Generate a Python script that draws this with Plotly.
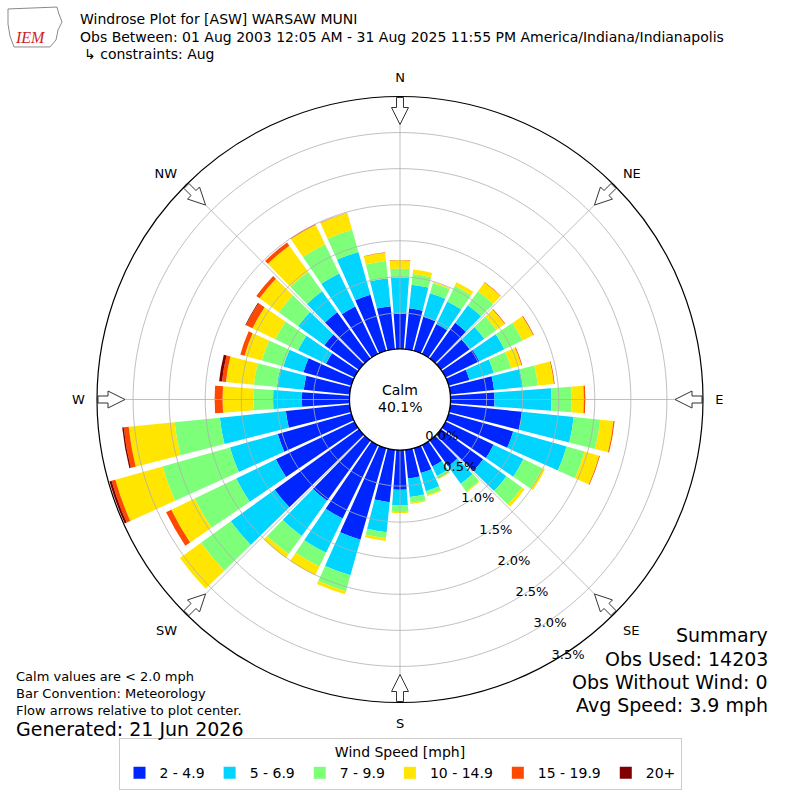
import math
import plotly.graph_objects as go

# wind direction bins, degrees (meteorological: where the wind blows from)
directions = list(range(0, 360, 10))

speed_bins = ["2 - 4.9", "5 - 6.9", "7 - 9.9", "10 - 14.9", "15 - 19.9", "20+"]
bin_colors = ["#0026ff", "#00d4ff", "#7dff7a", "#ffe500", "#ff4800", "#800000"]

# percent of all observations, per direction, one list per speed bin
pct_2_5 = [0.49, 0.57, 0.49, 0.46, 0.61, 0.49, 0.52, 0.30, 0.61, 0.61, 1.00, 0.93,
           0.74, 0.72, 0.44, 0.33, 0.36, 0.40, 0.55, 0.73, 1.32, 1.13, 1.03, 1.44,
           1.21, 1.06, 0.89, 0.66, 0.64, 0.69, 0.44, 0.59, 0.79, 0.73, 0.81, 0.60]
pct_5_7 = [0.50, 0.33, 0.34, 0.35, 0.30, 0.25, 0.385, 0.35, 0.40, 0.79, 0.72, 0.77,
           0.46, 0.40, 0.30, 0.15, 0.26, 0.26, 0.22, 0.42, 0.51, 0.53, 0.60, 0.75,
           0.61, 0.69, 0.92, 0.40, 0.375, 0.29, 0.43, 0.45, 0.36, 0.51, 0.615, 0.39]
pct_7_10 = [0.125, 0.15, 0.146, 0.24, 0.24, 0.21, 0.28, 0.25, 0.21, 0.28, 0.37, 0.26,
            0.29, 0.265, 0.13, 0.04, 0.055, 0.08, 0.09, 0.08, 0.23, 0.21, 0.31, 0.51,
            0.64, 0.97, 0.63, 0.27, 0.32, 0.31, 0.35, 0.33, 0.33, 0.45, 0.32, 0.24]
pct_10_15 = [0.115, 0.06, 0.015, 0.055, 0.15, 0.14, 0.165, 0.15, 0.225, 0.17, 0.185, 0.21,
             0.04, 0.045, 0.015, 0.01, 0.015, 0.015, 0.015, 0.04, 0.045, 0.14, 0.07, 0.36,
             0.36, 0.68, 0.64, 0.43, 0.39, 0.25, 0.35, 0.33, 0.445, 0.30, 0.24, 0.115]
pct_15_20 = [0.005, 0, 0, 0, 0.005, 0.01, 0.01, 0.01, 0.01, 0.02, 0.015, 0.01,
             0, 0, 0, 0, 0, 0, 0, 0, 0, 0, 0, 0,
             0.08, 0.055, 0.07, 0.11, 0.055, 0.06, 0.10, 0.055, 0.055, 0.01, 0.005, 0.005]
pct_20_up = [0, 0, 0, 0, 0, 0, 0, 0, 0, 0, 0, 0,
             0, 0, 0, 0, 0, 0, 0, 0, 0, 0, 0, 0,
             0, 0.03, 0.02, 0, 0.04, 0, 0.01, 0, 0, 0, 0, 0]

calm_pct = 40.1
r_ticks = [0.0, 0.5, 1.0, 1.5, 2.0, 2.5, 3.0, 3.5]
compass_deg = [0, 45, 90, 135, 180, 225, 270, 315]
compass_txt = ["N", "NE", "E", "SE", "S", "SW", "W", "NW"]

FONT = "DejaVu Sans"
W = H = 800
# polar geometry in pixels
CX, CY = 400, 399.5
R_OUT = 303.0
R_HOLE = 50.5
RMAX = 3.5
PX_PER_PCT = (R_OUT - R_HOLE) / RMAX


def px(x):
    return x / W


def py(y):
    return 1 - y / H


def arrow_outline(theta0):
    # block arrow sitting on the rim and pointing to the centre
    pts = [(302, -3.5), (292, -3.5), (292, -8.5), (275, 0),
           (292, 8.5), (292, 3.5), (302, 3.5), (302, -3.5)]
    rr, tt = [], []
    for a, c in pts:
        rr.append((math.hypot(a, c) - R_HOLE) / PX_PER_PCT)
        tt.append(theta0 + math.degrees(math.atan2(c, a)))
    return rr, tt


fig = go.Figure()

for name, vals, col in zip(speed_bins,
                           [pct_2_5, pct_5_7, pct_7_10, pct_10_15, pct_15_20, pct_20_up],
                           bin_colors):
    fig.add_trace(go.Barpolar(r=vals, theta=directions, name=name,
                              marker=dict(color=col, line=dict(width=0)),
                              hoverinfo="skip"))

# grid drawn on top of the bars, like the original
circle_theta = list(range(0, 361, 2))
for rv in r_ticks[1:-1]:
    fig.add_trace(go.Scatterpolar(r=[rv] * len(circle_theta), theta=circle_theta,
                                  mode="lines", line=dict(color="#b0b0b0", width=0.8),
                                  showlegend=False, hoverinfo="skip"))
for d in compass_deg:
    fig.add_trace(go.Scatterpolar(r=[0, RMAX], theta=[d, d], mode="lines",
                                  line=dict(color="#b0b0b0", width=0.8),
                                  showlegend=False, hoverinfo="skip"))

# calm circle edge
fig.add_trace(go.Scatterpolar(r=[0] * len(circle_theta), theta=circle_theta, mode="lines",
                              line=dict(color="black", width=1.2),
                              showlegend=False, hoverinfo="skip"))

# flow arrows
for d in compass_deg:
    ar, at = arrow_outline(d)
    fig.add_trace(go.Scatterpolar(r=ar, theta=at, mode="lines", fill="toself",
                                  fillcolor="white", line=dict(color="#333333", width=1),
                                  showlegend=False, hoverinfo="skip"))

# radial tick labels
fig.add_trace(go.Scatterpolar(r=r_ticks, theta=[150] * len(r_ticks), mode="text",
                              text=[f"{v:.1f}%" for v in r_ticks],
                              textposition="top right", cliponaxis=False,
                              textfont=dict(family=FONT, size=13, color="black"),
                              showlegend=False, hoverinfo="skip"))


def note(text, x, y, size=13, anchor="left", **kw):
    return dict(text=text, x=px(x), y=py(y), xref="paper", yref="paper",
                showarrow=False, xanchor=anchor, yanchor="middle",
                font=dict(family=kw.pop("family", FONT), size=size,
                          color=kw.pop("color", "black")), **kw)


annotations = [
    note("Windrose Plot for [ASW] WARSAW MUNI", 78, 19, size=14),
    note("Obs Between: 01 Aug 2003 12:05 AM - 31 Aug 2025 11:55 PM America/Indiana/Indianapolis", 78, 37, size=14),
    note("↳ constraints: Aug", 82, 54, size=14),
    note("Calm", 400, 390, size=14, anchor="center"),
    note(f"{calm_pct:.1f}%", 400, 407, size=14, anchor="center"),
    note("Calm values are < 2.0 mph", 14, 676),
    note("Bar Convention: Meteorology", 14, 693),
    note("Flow arrows relative to plot center.", 14, 710),
    note("Generated: 21 Jun 2026", 14, 729, size=19),
    note("Summary", 770, 635, size=19, anchor="right"),
    note("Obs Used: 14203", 770, 659, size=19, anchor="right"),
    note("Obs Without Wind: 0", 770, 682, size=19, anchor="right"),
    note("Avg Speed: 3.9 mph", 770, 705, size=19, anchor="right"),
    note("<i>IEM</i>", 30, 38, size=16, anchor="center", family="Liberation Serif", color="#d01c1c"),
]

# rough state outline behind the IEM logo text
logo = [(8, 9), (57, 7), (59, 14), (62, 22), (58, 30), (56, 40), (50, 47), (14, 47), (10, 36), (8, 24)]
logo_path = "M " + " L ".join(f"{px(x):.4f},{py(y):.4f}" for x, y in logo) + " Z"

fig.update_layout(
    width=W, height=H,
    margin=dict(l=0, r=0, t=0, b=0),
    paper_bgcolor="white",
    font=dict(family=FONT, size=13, color="black"),
    polar=dict(
        domain=dict(x=[px(CX - R_OUT), px(CX + R_OUT)], y=[py(CY + R_OUT), py(CY - R_OUT)]),
        hole=R_HOLE / R_OUT,
        bgcolor="white",
        barmode="stack",
        bargap=0.15,
        radialaxis=dict(range=[0, RMAX], showticklabels=False, showgrid=False,
                        showline=False, ticks=""),
        angularaxis=dict(rotation=90, direction="clockwise", tickmode="array",
                         tickvals=compass_deg, ticktext=compass_txt,
                         showgrid=False, showline=True, linecolor="black", linewidth=1.2,
                         ticks="outside", ticklen=9, tickcolor="rgba(0,0,0,0)",
                         tickfont=dict(family=FONT, size=13)),
    ),
    legend=dict(orientation="h", x=0.5, xanchor="center", y=py(790), yanchor="bottom",
                title=dict(text="Wind Speed [mph]", side="top center", font=dict(size=14)),
                bordercolor="#cccccc", borderwidth=1, bgcolor="white",
                font=dict(family=FONT, size=14), traceorder="normal"),
    annotations=annotations,
    shapes=[dict(type="path", path=logo_path, xref="paper", yref="paper",
                 line=dict(color="#8a8a8a", width=1))],
)

# the page body has a default margin; drop it so the 800x800 figure fills the window
fig.write_html("out.html", config={"displayModeBar": False},
               post_script="document.body.style.margin='0';")
